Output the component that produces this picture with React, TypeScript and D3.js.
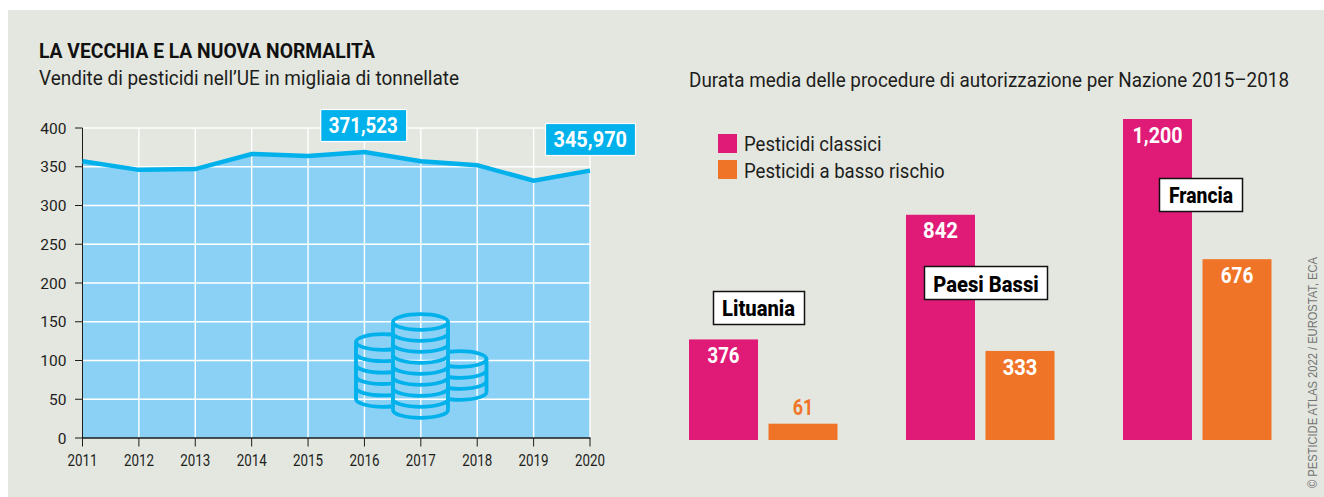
import React from "react";
import * as d3 from "d3";

const years = [2011, 2012, 2013, 2014, 2015, 2016, 2017, 2018, 2019, 2020];
const sales = [357, 346, 347, 366.5, 364, 369, 357, 352, 332, 345];
const yTicks = [0, 50, 100, 150, 200, 250, 300, 350, 400];
const countries = ["Lituania", "Paesi Bassi", "Francia"];
const classic = [376, 842, 1200];
const lowRisk = [61, 333, 676];
const classicLabels = ["376", "842", "1,200"];
const lowRiskLabels = ["61", "333", "676"];

const FONT = "Roboto,'Liberation Sans',sans-serif";
const INK = "#1d1d1b";
const BLUE = "#00b1eb";
const AREA = "#8bd1f6";
const PINK = "#e01b77";
const ORANGE = "#f07427";
const BG = "#e4e7e0";

const x = d3.scalePoint<number>().domain(years).range([82.5, 590]);
const y = d3.scaleLinear().domain([0, 400]).range([438, 128]);
const h = d3.scaleLinear().domain([0, 1200]).range([0, 321]);
const BASE = 440;
const groupX = d3.scalePoint<string>().domain(countries).range([689, 1123]);
const BW = 69;

function T({ w, children, ...rest }: any) {
  return (
    <text textLength={w} lengthAdjust="spacingAndGlyphs" {...rest}>
      {children}
    </text>
  );
}

function Stack({ cx, top, rx, n, step, clip }: { cx: number; top: number; rx: number; n: number; step: number; clip?: string }) {
  const ry = 7.8;
  const bottom = top + step * n;
  const arcs = d3.range(1, n + 1).map((i) => top + step * i);
  return (
    <g fill="none" stroke={BLUE} strokeWidth={3.8} clipPath={clip}>
      <ellipse cx={cx} cy={top} rx={rx} ry={ry} />
      <path d={`M${cx - rx},${top}V${bottom}M${cx + rx},${top}V${bottom}`} />
      {arcs.map((a) => (
        <path key={a} d={`M${cx - rx},${a}A${rx},${ry} 0 0 0 ${cx + rx},${a}`} />
      ))}
    </g>
  );
}

export default function App() {
  const area = d3.area<number>().x((_, i) => x(years[i])!).y0(y(0)).y1((d) => y(d));
  const line = d3.line<number>().x((_, i) => x(years[i])!).y((d) => y(d));
  const boxes = [
    { bx: 713.5, by: 291.5, bw: 91, bh: 33, tx: 758.5, tw: 73, base: 315.5 },
    { bx: 924.5, by: 266.5, bw: 123, bh: 33, tx: 986, tw: 105.5, base: 291.5 },
    { bx: 1159.5, by: 178.5, bw: 83, bh: 33, tx: 1201, tw: 64, base: 203 },
  ];
  const classicW = [32, 35, 50];
  const lowW = [20.5, 34.6, 32.5];
  return (
    <svg width={1324} height={497} style={{ position: "absolute", left: 0, top: 0 }} fontFamily={FONT}>
      <defs>
        <clipPath id="leftOfMid"><rect x={340} y={320} width={51} height={100} /></clipPath>
        <clipPath id="rightOfMid"><rect x={450} y={340} width={50} height={80} /></clipPath>
      </defs>
      <rect x={8} y={10} width={1316} height={487} fill={BG} />
      <T x={39} y={58} w={336} fontSize={21} fontWeight={700} fill="#111">LA VECCHIA E LA NUOVA NORMALITÀ</T>
      <T x={39} y={84.5} w={420} fontSize={20} fill={INK}>Vendite di pesticidi nell’UE in migliaia di tonnellate</T>
      <T x={689} y={87} w={600} fontSize={20} fill={INK}>Durata media delle procedure di autorizzazione per Nazione 2015–2018</T>

      <path d={area(sales)!} fill={AREA} />
      {yTicks.map((t) => (
        <g key={t}>
          {t > 0 && <line x1={82.5} x2={590} y1={y(t)} y2={y(t)} stroke="#fff" strokeWidth={1.4} />}
          <line x1={75} x2={82.5} y1={y(t)} y2={y(t)} stroke={INK} strokeWidth={1} />
          <text x={66.5} y={y(t) + 5.5} textAnchor="end" fontSize={15.5} fill={INK}>{t}</text>
        </g>
      ))}
      {years.map((yr) => (
        <g key={yr}>
          {yr > 2011 && <line x1={x(yr)} x2={x(yr)} y1={128} y2={438} stroke="#fff" strokeWidth={1.4} />}
          <line x1={x(yr)} x2={x(yr)} y1={438} y2={446.5} stroke={INK} strokeWidth={1} />
          <T x={x(yr)! - 15} y={466} w={30} fontSize={16} fill={INK}>{yr}</T>
        </g>
      ))}
      <line x1={82.5} x2={82.5} y1={128} y2={438} stroke={INK} strokeWidth={1} />
      <line x1={82} x2={590.5} y1={438} y2={438} stroke={INK} strokeWidth={1.4} />
      <path d={line(sales)!} fill="none" stroke={BLUE} strokeWidth={4.5} />

      <Stack cx={383} top={342} rx={27} n={5} step={11.4} clip="url(#leftOfMid)" />
      <Stack cx={460} top={359} rx={26.5} n={3} step={11} clip="url(#rightOfMid)" />
      <Stack cx={420.5} top={322} rx={27.5} n={8} step={11} />

      <rect x={320.7} y={109.5} width={86} height={32} fill={BLUE} stroke="#fff" strokeWidth={1.2} />
      <T x={328.7} y={133.3} w={69} fontSize={21.5} fontWeight={700} fill="#fff">371,523</T>
      <rect x={545.5} y={123.5} width={90} height={32} fill={BLUE} stroke="#fff" strokeWidth={1.2} />
      <T x={553.5} y={146.7} w={73.5} fontSize={22} fontWeight={700} fill="#fff">345,970</T>

      <rect x={718} y={134} width={19} height={19} fill={PINK} />
      <T x={744} y={151} w={137.5} fontSize={20} fill={INK}>Pesticidi classici</T>
      <rect x={718} y={160} width={19} height={19} fill={ORANGE} />
      <T x={744} y={177.7} w={200.5} fontSize={20} fill={INK}>Pesticidi a basso rischio</T>

      {countries.map((c, i) => {
        const gx = groupX(c)!;
        const lowTop = BASE - h(lowRisk[i]);
        return (
          <g key={c}>
            <rect x={gx} y={BASE - h(classic[i])} width={BW} height={h(classic[i])} fill={PINK} />
            <T x={gx + BW / 2 - classicW[i] / 2} y={BASE - h(classic[i]) + 23.5} w={classicW[i]} fontSize={21.5} fontWeight={700} fill="#fff">{classicLabels[i]}</T>
            <rect x={gx + 79.5} y={lowTop} width={BW} height={h(lowRisk[i])} fill={ORANGE} />
            <T x={gx + 79.5 + BW / 2 - lowW[i] / 2} y={i === 0 ? lowTop - 8.5 : lowTop + 24} w={lowW[i]} fontSize={21.5} fontWeight={700} fill={i === 0 ? ORANGE : "#fff"}>{lowRiskLabels[i]}</T>
          </g>
        );
      })}

      {countries.map((c, i) => {
        const b = boxes[i];
        return (
          <g key={c}>
            <rect x={b.bx} y={b.by} width={b.bw} height={b.bh} fill="#fff" stroke="#111" strokeWidth={1.5} />
            <T x={b.tx - b.tw / 2} y={b.base} w={b.tw} fontSize={22} fontWeight={800} fill="#000">{c}</T>
          </g>
        );
      })}

      <T transform="translate(1317,488) rotate(-90)" x={0} y={0} w={231} fontFamily="'Liberation Sans',sans-serif" fontSize={13} fill="#737373">© PESTICIDE ATLAS 2022 / EUROSTAT, ECA</T>
    </svg>
  );
}
